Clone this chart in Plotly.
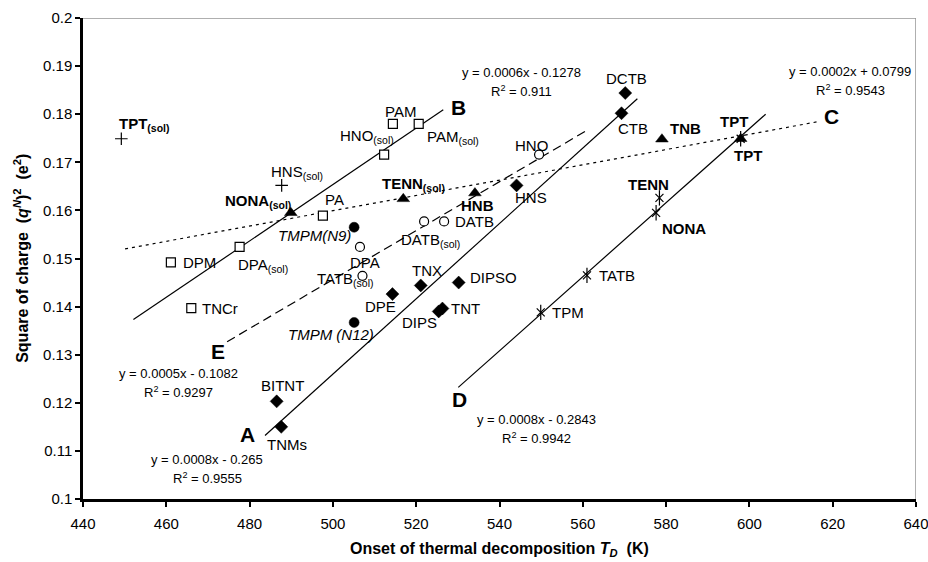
import plotly.graph_objects as go

# ---------------- data ----------------
# open squares
sq_names = ["DPM", "DPA(sol)", "TNCr", "PA", "HNO(sol)", "PAM", "PAM(sol)"]
sq_x = [461.1, 477.6, 466.0, 497.6, 512.3, 514.4, 520.6]
sq_y = [0.1492, 0.1524, 0.1397, 0.1589, 0.1716, 0.1780, 0.1780]

# open circles
oc_names = ["DPA", "TATB(sol)", "DATB(sol)", "DATB", "HNO"]
oc_x = [506.5, 507.1, 521.9, 526.7, 549.5]
oc_y = [0.1524, 0.1464, 0.1577, 0.1577, 0.1716]

# filled circles
fc_names = ["TMPM(N9)", "TMPM (N12)"]
fc_x = [505.1, 505.1]
fc_y = [0.1565, 0.1367]

# filled triangles
tr_names = ["NONA(sol)", "TENN(sol)", "HNB", "TNB", "TPT"]
tr_x = [489.9, 516.9, 534.1, 579.0, 597.9]
tr_y = [0.1595, 0.1624, 0.1636, 0.1748, 0.1749]

# filled diamonds
dm_names = ["BITNT", "TNMs", "DPE", "TNX", "DIPS", "TNT", "DIPSO", "HNS", "CTB", "DCTB"]
dm_x = [486.5, 487.6, 514.3, 521.1, 525.4, 526.3, 530.2, 544.1, 569.3, 570.2]
dm_y = [0.1203, 0.1150, 0.1426, 0.1444, 0.1390, 0.1396, 0.1450, 0.1652, 0.1802, 0.1844]

# stars
st_names = ["TPM", "TATB", "NONA", "TENN", "TPT"]
st_x = [549.9, 561.0, 577.6, 578.4, 597.9]
st_y = [0.1388, 0.1465, 0.1595, 0.1626, 0.1749]

# plus
pl_names = ["TPT(sol)", "HNS(sol)"]
pl_x = [449.2, 487.7]
pl_y = [0.1749, 0.1652]

# trend lines (drawn ranges)
lineA_x = [483.7, 573.1]
lineA_y = [0.1132, 0.1832]
lineB_x = [452.1, 526.5]
lineB_y = [0.1373, 0.1809]
lineC_x = [450.1, 616.8]
lineC_y = [0.1520, 0.1785]
lineD_x = [530.1, 603.9]
lineD_y = [0.1232, 0.1800]
lineE_x = [474.6, 560.9]
lineE_y = [0.1327, 0.1766]

eqA = ["y = 0.0008x - 0.265", "R<sup>2</sup> = 0.9555"]
eqB = ["y = 0.0006x - 0.1278", "R<sup>2</sup> = 0.911"]
eqC = ["y = 0.0002x + 0.0799", "R<sup>2</sup> = 0.9543"]
eqD = ["y = 0.0008x - 0.2843", "R<sup>2</sup> = 0.9942"]
eqE = ["y = 0.0005x - 0.1082", "R<sup>2</sup> = 0.9297"]

x_range = [440, 640]
y_range = [0.1, 0.2]
x_ticks = [440, 460, 480, 500, 520, 540, 560, 580, 600, 620, 640]
y_ticks = [0.1, 0.11, 0.12, 0.13, 0.14, 0.15, 0.16, 0.17, 0.18, 0.19, 0.2]
y_ticktext = ["0.1", "0.11", "0.12", "0.13", "0.14", "0.15", "0.16", "0.17", "0.18", "0.19", "0.2"]

# ---------------- figure ----------------
FONT = "Liberation Sans, Arial, sans-serif"
fig = go.Figure()

# gray frame on the top and right of the plot area (built from the axis ranges)
fig.add_trace(go.Scatter(x=[x_range[0], x_range[1], x_range[1]],
                         y=[y_range[1], y_range[1], y_range[0]],
                         mode="lines", line=dict(color="#959595", width=1.5),
                         cliponaxis=False, hoverinfo="skip", showlegend=False))

def add_line(xs, ys, dash):
    fig.add_trace(go.Scatter(x=xs, y=ys, mode="lines",
                             line=dict(color="black", width=1.2, dash=dash),
                             hoverinfo="skip", showlegend=False))

add_line(lineA_x, lineA_y, "solid")
add_line(lineB_x, lineB_y, "solid")
add_line(lineD_x, lineD_y, "solid")
add_line(lineE_x, lineE_y, "9px,5px")
add_line(lineC_x, lineC_y, "3px,4px")

def add_pts(xs, ys, names, symbol, size, fill, lw=1.0):
    fig.add_trace(go.Scatter(x=xs, y=ys, mode="markers", text=names,
                             marker=dict(symbol=symbol, size=size, color=fill,
                                         line=dict(color="black", width=lw)),
                             showlegend=False))

add_pts(sq_x, sq_y, sq_names, "square", 9, "white", 1.2)
add_pts(oc_x, oc_y, oc_names, "circle", 9, "white", 1.2)
add_pts(fc_x, fc_y, fc_names, "circle", 10, "black", 0.5)
add_pts(tr_x, tr_y, tr_names, "triangle-up", 11, "black", 0.5)
add_pts(dm_x, dm_y, dm_names, "diamond", 10, "black", 0.5)
add_pts(st_x, st_y, st_names, "x-thin-open", 8, "black", 1.2)
add_pts(st_x, st_y, st_names, "line-ns-open", 11, "black", 1.2)
add_pts(pl_x, pl_y, pl_names, "cross-thin-open", 9, "black", 1.2)

def fmt(name):
    return name.replace("(sol)", "<sub>(sol)</sub>")

ann = []
def label(x, y, text, xa, dx, dy, bold=False, italic=False, size=15):
    t = fmt(text)
    if bold:
        t = "<b>" + t + "</b>"
    if italic:
        t = "<i>" + t + "</i>"
    ann.append(dict(x=x, y=y, xref="x", yref="y", text=t, showarrow=False,
                    xanchor=xa, yanchor="middle", xshift=dx, yshift=dy,
                    font=dict(family=FONT, size=size, color="black")))

# label placement (style only)
offsets = {
    "DPM": ("left", 10, 0, False, False),
    "DPA(sol)": ("left", -4, -19, False, False),
    "TNCr": ("left", 9, 0, False, False),
    "PA": ("left", 0, 16, False, False),
    "HNO(sol)": ("right", 12, 18, False, False),
    "PAM": ("center", 8, 12, False, False),
    "PAM(sol)": ("left", 6, -14, False, False),
    "DPA": ("center", 5, -16, False, False),
    "TATB(sol)": ("right", 14, -4, False, False),
    "DATB(sol)": ("left", -25, -19, False, False),
    "DATB": ("left", 9, 0, False, False),
    "HNO": ("right", 11, 9, False, False),
    "TMPM(N9)": ("right", -1, -8, False, True),
    "TMPM (N12)": ("right", 22, -12, False, True),
    "NONA(sol)": ("right", 2, 11, True, False),
    "TENN(sol)": ("center", 10, 14, True, False),
    "HNB": ("center", 3, -12, True, False),
    "TNB": ("left", 6, 11, True, False),
    "BITNT": ("center", 6, 16, False, False),
    "TNMs": ("center", 6, -18, False, False),
    "DPE": ("right", 6, -12, False, False),
    "TNX": ("center", 6, 15, False, False),
    "DIPS": ("right", 0, -11, False, False),
    "TNT": ("left", 7, 0, False, False),
    "DIPSO": ("left", 9, 5, False, False),
    "HNS": ("left", -4, -12, False, False),
    "CTB": ("left", -6, -15, False, False),
    "DCTB": ("center", 1, 15, False, False),
    "TPM": ("left", 9, 0, False, False),
    "TATB": ("left", 10, 0, False, False),
    "NONA": ("left", 4, -16, True, False),
    "TENN": ("center", -11, 13, True, False),
    "TPT(sol)": ("left", -4, 14, True, False),
    "HNS(sol)": ("left", -13, 13, False, False),
}

for names, xs, ys in [(sq_names, sq_x, sq_y), (oc_names, oc_x, oc_y),
                      (fc_names, fc_x, fc_y), (tr_names, tr_x, tr_y),
                      (dm_names, dm_x, dm_y), (pl_names, pl_x, pl_y)]:
    for n, x, y in zip(names, xs, ys):
        if n == "TPT":
            label(x, y, n, "center", -7, 17, True)
            label(x, y, n, "center", 7, -17, True)
            continue
        xa, dx, dy, b, it = offsets[n]
        label(x, y, n, xa, dx, dy, b, it)
for n, x, y in zip(st_names, st_x, st_y):
    if n == "TPT":
        continue
    xa, dx, dy, b, it = offsets[n]
    label(x, y, n, xa, dx, dy, b, it)

# line letters
def letter(x, y, t, dx, dy):
    ann.append(dict(x=x, y=y, xref="x", yref="y", text="<b>" + t + "</b>", showarrow=False,
                    xanchor="center", yanchor="middle", xshift=dx, yshift=dy,
                    font=dict(family=FONT, size=21, color="black")))

letter(lineA_x[0], lineA_y[0], "A", -18, 1)
letter(lineB_x[1], lineB_y[1], "B", 15, 2)
letter(lineC_x[1], lineC_y[1], "C", 12, 5)
letter(lineD_x[0], lineD_y[0], "D", 1, -12)
letter(lineE_x[0], lineE_y[0], "E", -9, -10)

# equations (paper coords)
W0, W1, H0, H1 = 82.7, 916.0, 18.3, 499.3
def px2paper(px, py):
    return (px - W0) / (W1 - W0), (H1 - py) / (H1 - H0)

def eq(lines, cx, cy1, cy2):
    for t, cy in zip(lines, [cy1, cy2]):
        xp, yp = px2paper(cx, cy)
        ann.append(dict(x=xp, y=yp, xref="paper", yref="paper", text=t, showarrow=False,
                        xanchor="center", yanchor="middle",
                        font=dict(family=FONT, size=13, color="black")))

eq(eqB, 521.5, 73, 91)
eq(eqC, 850, 72, 90)
eq(eqE, 178, 373.5, 392.5)
eq(eqA, 207, 459.5, 478.5)
eq(eqD, 536, 419.5, 438.5)

# axis titles
ann.append(dict(x=0.5, y=(H1 - 550) / (H1 - H0), xref="paper", yref="paper",
                text="<b>Onset of thermal decomposition <i>T<sub>D</sub></i>\u00a0\u00a0(K)</b>",
                showarrow=False, xanchor="center", yanchor="middle",
                font=dict(family=FONT, size=16, color="black")))
ann.append(dict(x=(20 - W0) / (W1 - W0), y=0.5, xref="paper", yref="paper",
                text="<b>Square of charge\u00a0\u00a0(<i>q</i><sup><i>N</i></sup>)<sup>2</sup>\u00a0\u00a0(e<sup>2</sup>)</b>",
                showarrow=False, xanchor="center", yanchor="middle", textangle=-90,
                font=dict(family=FONT, size=16, color="black")))

fig.update_layout(
    width=928, height=562,
    margin=dict(l=83, r=12, t=18, b=63, autoexpand=False),
    paper_bgcolor="white", plot_bgcolor="white",
    annotations=ann,
    showlegend=False,
    font=dict(family=FONT, size=15, color="black"),
    xaxis=dict(range=x_range, tickvals=x_ticks, showgrid=False, zeroline=False,
               showline=True, linecolor="black", linewidth=2.5,
               ticks="outside", ticklen=5, tickwidth=2, tickcolor="black",
               ticklabelstandoff=4, ticklabeloverflow="allow", automargin=False,
               tickfont=dict(family=FONT, size=15, color="black")),
    yaxis=dict(range=y_range, tickvals=y_ticks, ticktext=y_ticktext,
               showgrid=False, zeroline=False,
               showline=True, linecolor="black", linewidth=2.5,
               ticks="outside", ticklen=5, tickwidth=2, tickcolor="black",
               ticklabeloverflow="allow", automargin=False,
               tickfont=dict(family=FONT, size=15, color="black")),
)

fig.write_html("out.html", config={"displayModeBar": False},
               post_script="document.body.style.margin='0';document.body.style.padding='0';")
